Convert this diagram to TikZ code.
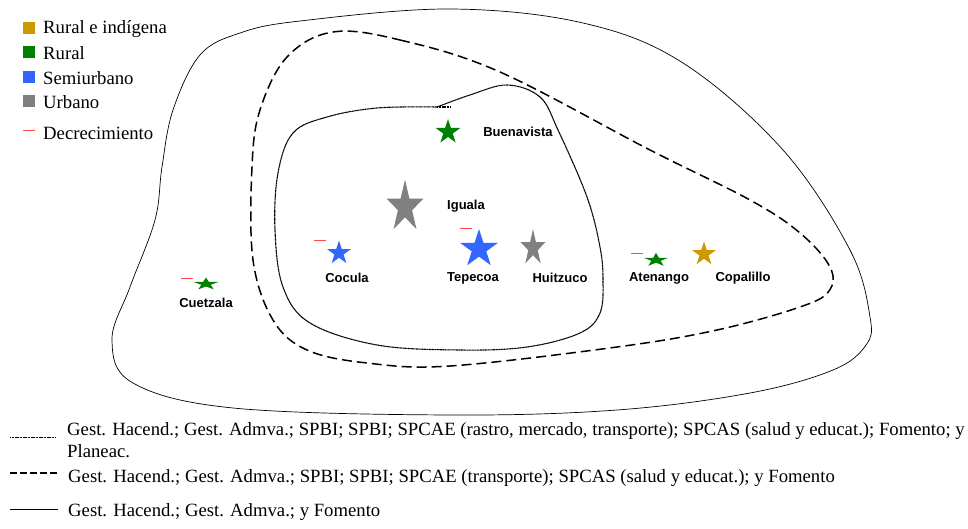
\documentclass[tikz,border=0pt]{standalone}
\usepackage{fontspec}
\setmainfont{Liberation Serif}
\newfontfamily\labelfont{Liberation Sans}
\usetikzlibrary{shapes.geometric}
\definecolor{ColGold}{RGB}{204,153,0}
\definecolor{ColGreen}{RGB}{0,128,0}
\definecolor{ColBlue}{RGB}{51,102,255}
\definecolor{ColGray}{RGB}{128,128,128}
\definecolor{ColRed}{RGB}{255,70,70}
\tikzset{
  map style/.style={
    x=1pt, y=-1pt,
  },
  city star/.style={
    fill=#1,
    star,
    star points=5,
    star point ratio=2.618,
    inner sep=0pt,
  },
  city label/.style={
    font=\labelfont\bfseries\fontsize{13}{15}\selectfont,
    inner sep=0pt,
  },
  decline/.style={
    fill=ColRed,
    rectangle,
    inner sep=0pt,
    minimum width=12,
    minimum height=1,
  },
  key box/.style={
    fill=#1,
    rectangle,
    inner sep=0pt,
    minimum size=12,
  },
  key text/.style={
    anchor=west,
    inner sep=0pt,
    font=\fontsize{18.7}{22}\selectfont,
    align=left,
  },
  zone outer/.style={
    line width=0.7pt,
  },
  zone mid/.style={
    line width=1.5pt,
    dash pattern=on 10pt off 5pt,
  },
  zone inner/.style={
    line width=1.1pt,
    dash pattern=on 1.2pt off 0.4pt,
  },
}

\begin{document}
\begin{tikzpicture}[map style]
  \useasboundingbox (0,0) rectangle (968,529);

  % zones
  \draw[zone outer] plot[smooth cycle, tension=0.6] coordinates {
    (450,9) (583,23) (683,63) (783,150) (850,250) (870,317) (866,345)
    (833,370) (750,393) (617,410) (450,415) (233,408) (133,383) (112,340)
    (130,287) (155,220) (162,167) (173,110) (200,55) (240,33) (300,21)};
  \draw[zone mid] plot[smooth cycle, tension=0.6] coordinates {
    (333,32) (400,40) (500,72) (650,150) (750,200) (800,233) (830,267)
    (829,291) (800,307) (717,330) (617,347) (450,366) (367,363) (307,350)
    (273,320) (253,260) (252,167) (260,110) (287,57)};
  \draw[zone inner] plot[smooth, tension=0.6] coordinates {
    (437,107) (470,95) (507,85) (540,97) (558,130) (587,197) (600,247)
    (603,280) (600,313) (580,333) (527,347) (460,350) (377,345) (310,323)
    (283,287) (275,230) (278,173) (293,133) (327,117) (377,108) (437,107)};
  \coordinate (spurA) at (437,107);
  \coordinate (spurB) at (450,107);
  \draw[zone inner] (spurA) -- (spurB);

  % towns
  \node[city star=ColGreen, minimum size=26] (buenavista) at (448,132) {};
  \node[city star=ColGray, minimum size=39, yscale=1.4] (iguala) at (405,207) {};
  \node[city star=ColBlue, minimum size=40] (tepecoa) at (479,249) {};
  \node[city star=ColGray, minimum size=26, yscale=1.45] (huitzuco) at (533,248) {};
  \node[city star=ColBlue, minimum size=25] (cocula) at (339,253) {};
  \node[city star=ColGreen, minimum size=26, yscale=0.5] (cuetzala) at (206,284) {};
  \node[city star=ColGreen, minimum size=26, yscale=0.55] (atenango) at (656,260) {};
  \node[city star=ColGold, minimum size=25] (copalillo) at (704,254) {};

  \node[city label] (lbuenavista) at (518,132) {Buenavista};
  \node[city label] (liguala) at (466,206) {Iguala};
  \node[city label] (ltepecoa) at (473,278) {Tepecoa};
  \node[city label] (lhuitzuco) at (560,278) {Huitzuco};
  \node[city label] (lcocula) at (347,278) {Cocula};
  \node[city label] (lcuetzala) at (206,303) {Cuetzala};
  \node[city label] (latenango) at (659,278) {Atenango};
  \node[city label] (lcopalillo) at (743,278) {Copalillo};

  \node[decline] (dcuetzala) at (187,278) {};
  \node[decline] (dcocula) at (320,241) {};
  \node[decline] (dtepecoa) at (466,229) {};
  \node[decline] (datenango) at (637,253) {};

  % key
  \node[key box=ColGold] (k1) at (28.5,28) {};
  \node[key box=ColGreen] (k2) at (28.5,52) {};
  \node[key box=ColBlue] (k3) at (28.5,77) {};
  \node[key box=ColGray] (k4) at (28.5,101) {};
  \node[decline] (k5) at (28.5,131) {};
  \node[key text] (t1) at (43,29) {Rural e indígena};
  \node[key text] (t2) at (43,53) {Rural};
  \node[key text] (t3) at (43,78) {Semiurbano};
  \node[key text] (t4) at (43,102) {Urbano};
  \node[key text] (t5) at (43,133) {Decrecimiento};

  % zone key
  \coordinate (z1a) at (10,437);
  \coordinate (z1b) at (56,437);
  \coordinate (z2a) at (10,473);
  \coordinate (z2b) at (58,473);
  \coordinate (z3a) at (10,509);
  \coordinate (z3b) at (58,509);
  \draw[zone inner, line width=0.8pt] (z1a) -- (z1b);
  \draw[zone mid, line width=1.3pt, dash pattern=on 7pt off 3pt] (z2a) -- (z2b);
  \draw[zone outer] (z3a) -- (z3b);
  \node[key text, anchor=north west] (zt1) at (67,422) {Gest. Hacend.; Gest. Admva.; SPBI; SPBI; SPCAE (rastro, mercado, transporte); SPCAS (salud y educat.); Fomento; y\\Planeac.};
  \node[key text] (zt2) at (68,478) {Gest. Hacend.; Gest. Admva.; SPBI; SPBI; SPCAE (transporte); SPCAS (salud y educat.); y Fomento};
  \node[key text] (zt3) at (68,512) {Gest. Hacend.; Gest. Admva.; y Fomento};
\end{tikzpicture}
\end{document}
